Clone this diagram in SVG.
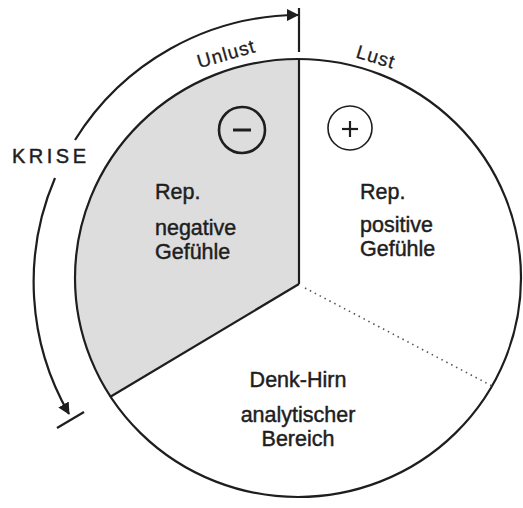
<svg xmlns="http://www.w3.org/2000/svg" width="523" height="508" viewBox="0 0 523 508">
<style>
  .ln { fill: none; stroke: #1e1e1e; stroke-width: 2.2; }
  .txt { font-family: "Liberation Sans", Arial, sans-serif; fill: #1e1e1e; stroke: #1e1e1e; stroke-width: 0.45; }
  .lbl { font-size: 21.5px; }
  .arc { font-size: 19px; letter-spacing: 1px; stroke-width: 0.3; }
</style>
<defs>
  <marker id="ah" viewBox="0 0 12 12" refX="11" refY="6" markerWidth="12" markerHeight="12" markerUnits="userSpaceOnUse" orient="auto">
    <path d="M0,0 L12,6 L0,12 Z" fill="#1e1e1e"/>
  </marker>
</defs>
<rect width="523" height="508" fill="#ffffff"/>

<g id="sector-negative">
  <path d="M299 284 L299 59 A223 219 0 0 0 110 397 Z" fill="#dddddd"/>
  <circle cx="242" cy="130" r="23" fill="none" stroke="#1e1e1e" stroke-width="2.6"/>
  <line x1="233" y1="130" x2="251" y2="130" stroke="#1e1e1e" stroke-width="3"/>
  <text class="txt lbl" x="155" y="199">Rep.</text>
  <text class="txt lbl" x="155" y="235">negative</text>
  <text class="txt lbl" x="155" y="259">Gefühle</text>
  <text class="txt arc" transform="translate(228 60) rotate(-16)" text-anchor="middle">Unlust</text>
</g>

<g id="sector-positive">
  <circle cx="350" cy="128" r="22" fill="none" stroke="#1e1e1e" stroke-width="1.6"/>
  <line x1="342" y1="129" x2="358" y2="129" stroke="#1e1e1e" stroke-width="2.2"/>
  <line x1="350" y1="121" x2="350" y2="137" stroke="#1e1e1e" stroke-width="2.2"/>
  <text class="txt lbl" x="360" y="199">Rep.</text>
  <text class="txt lbl" x="360" y="232">positive</text>
  <text class="txt lbl" x="360" y="256">Gefühle</text>
  <text class="txt arc" transform="translate(374 63) rotate(17)" text-anchor="middle">Lust</text>
</g>

<g id="sector-denk">
  <text class="txt lbl" x="298" y="387" text-anchor="middle">Denk-Hirn</text>
  <text class="txt lbl" x="298" y="422" text-anchor="middle">analytischer</text>
  <text class="txt lbl" x="298" y="446" text-anchor="middle">Bereich</text>
</g>

<g id="circle">
  <ellipse cx="298" cy="278" rx="223" ry="219" class="ln" stroke-width="2"/>
</g>

<g id="connectors">
  <line x1="299" y1="59" x2="299" y2="284" class="ln" stroke-width="2.4"/>
  <line x1="299" y1="284" x2="110" y2="397" class="ln" stroke-width="2.4"/>
  <line x1="305" y1="288" x2="494" y2="387" stroke="#555" stroke-width="1.6" stroke-dasharray="1.5 4"/>
  <path d="M75 140 A264 264 0 0 1 298 15" class="ln" stroke-width="1.8" marker-end="url(#ah)"/>
  <line x1="299" y1="8" x2="299" y2="52" class="ln" stroke-width="2"/>
  <path d="M55 178 A264 264 0 0 0 69 414" class="ln" stroke-width="1.8" marker-end="url(#ah)"/>
  <line x1="57" y1="428" x2="84" y2="412" class="ln" stroke-width="2"/>
</g>

<g id="krise">
  <text class="txt" x="12" y="163" font-size="20" letter-spacing="3.5" stroke-width="0.6">KRISE</text>
</g>
</svg>
